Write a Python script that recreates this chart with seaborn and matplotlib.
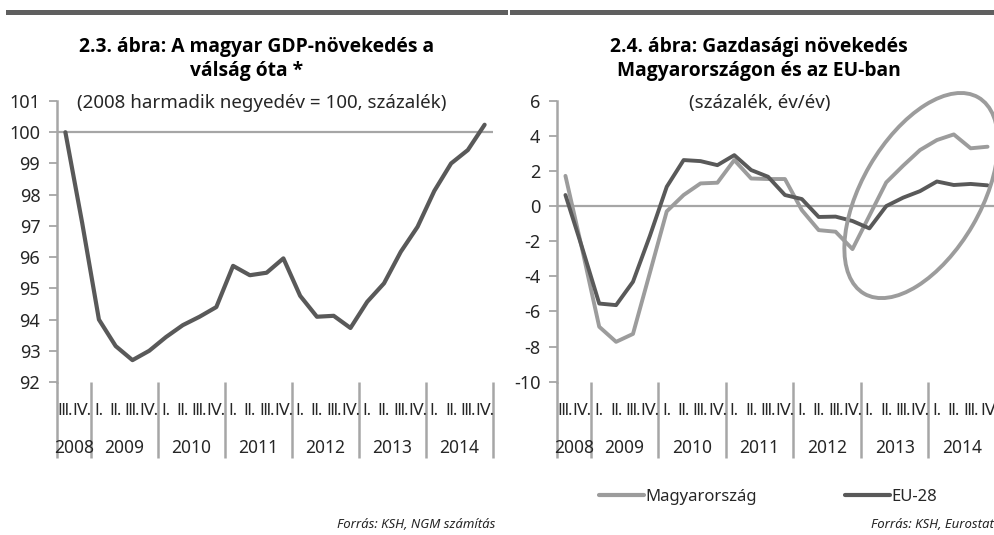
import matplotlib
matplotlib.use("Agg")
import matplotlib.pyplot as plt
import matplotlib.transforms as mtransforms
from matplotlib.patches import Ellipse, Rectangle
from matplotlib.lines import Line2D
import seaborn as sns
import pandas as pd
import numpy as np

# ---------------- data ----------------
quarter_labels_left = ["Ⅲ.", "Ⅳ."] + ["Ⅰ.", "Ⅱ.", "Ⅲ.", "Ⅳ."] * 6
quarter_labels_right = ["Ⅲ.", "Ⅳ."] + ["Ⅰ.", "Ⅱ.", "Ⅲ.", "Ⅳ."] * 5 + ["Ⅰ.", "Ⅱ.", "Ⅲ.", "Ⅳ"]
years = ["2008", "2009", "2010", "2011", "2012", "2013", "2014"]
year_quarters = [2, 4, 4, 4, 4, 4, 4]

gdp_index = [100.0, 97.1, 94.0, 93.15, 92.7, 93.0, 93.44, 93.82, 94.09, 94.4,
             95.72, 95.42, 95.5, 95.96, 94.76, 94.09, 94.12, 93.73, 94.57, 95.16,
             96.17, 96.97, 98.12, 99.0, 99.43, 100.24]

hu_growth = [1.72, -2.5, -6.87, -7.73, -7.28, -3.8, -0.3, 0.63, 1.29, 1.33,
             2.62, 1.57, 1.54, 1.54, -0.23, -1.37, -1.46, -2.45, -0.55, 1.35,
             2.3, 3.19, 3.76, 4.08, 3.29, 3.38]
eu_growth = [0.63, -2.4, -5.55, -5.64, -4.31, -1.7, 1.1, 2.62, 2.56, 2.33,
             2.9, 2.05, 1.67, 0.63, 0.4, -0.62, -0.6, -0.85, -1.27, 0.0,
             0.48, 0.85, 1.4, 1.2, 1.26, 1.18]

series_names = ["Magyarország", "EU-28"]

# ---------------- style ----------------
sns.set_theme(style="white")
plt.rcParams["font.family"] = ["Noto Sans", "DejaVu Sans"]
plt.rcParams["axes.unicode_minus"] = False

DARK = "#595959"
LIGHT = "#9c9c9c"
AXIS = "#a6a6a6"
TXT = "#262626"
FS = 13
TITLE_FS = 13.9
BOLD_FAMILY = ["Open Sans", "DejaVu Sans"]

fig = plt.figure(figsize=(9.95, 5.35), dpi=100)
W, H = 995, 535


def px_axes(x0, y0, x1, y1):
    return fig.add_axes([x0 / W, 1 - y1 / H, (x1 - x0) / W, (y1 - y0) / H])


axL = px_axes(57, 101, 493, 382)
axR = px_axes(557, 100.7, 996, 381.7)

n = len(gdp_index)
idx = np.arange(n)

dfL = pd.DataFrame({"q": idx, "v": gdp_index})
dfR = pd.DataFrame({
    "q": np.concatenate([idx, idx]),
    "v": hu_growth + eu_growth,
    "s": [series_names[0]] * n + [series_names[1]] * n,
})

sns.lineplot(data=dfL, x="q", y="v", ax=axL, color=DARK, lw=3.0, zorder=3)
sns.lineplot(data=dfR, x="q", y="v", hue="s", ax=axR,
             palette={series_names[0]: LIGHT, series_names[1]: DARK},
             lw=2.8, zorder=3, legend=False)

axL.axhline(100, color=AXIS, lw=1.6, zorder=1)
axR.axhline(0, color=AXIS, lw=1.6, zorder=1)

axL.set_ylim(92, 101)
axL.set_yticks(range(92, 102))
axR.set_ylim(-10, 6)
axR.set_yticks(range(-10, 7, 2))

for ax, qlabels in ((axL, quarter_labels_left), (axR, quarter_labels_right)):
    ax.set_xlim(-0.5, n - 0.5)
    ax.set_xticks([])
    ax.set_xlabel("")
    ax.set_ylabel("")
    for sp in ("top", "right", "bottom"):
        ax.spines[sp].set_visible(False)
    ax.spines["left"].set_color(AXIS)
    ax.spines["left"].set_linewidth(1.8)
    ax.tick_params(axis="y", direction="out", length=6, width=1.3,
                   color=AXIS, labelsize=FS, labelcolor=TXT, pad=6, left=True)
    ax.patch.set_alpha(0)
    ax.grid(False)

    # category axis: separators, quarter labels, year labels
    trans = mtransforms.blended_transform_factory(ax.transData, ax.transAxes)
    hpx = ax.get_position().height * H
    ybot = -76 / hpx
    yq = -29 / hpx
    yy = -66 / hpx
    bounds = np.concatenate([[0], np.cumsum(year_quarters)]) - 0.5
    for b in bounds:
        ax.plot([b, b], [0, ybot], transform=trans, color=AXIS, lw=1.8,
                clip_on=False, solid_capstyle="butt")
    for i, lab in enumerate(qlabels):
        ax.text(i, yq, lab, transform=trans, ha="center", va="center",
                fontsize=11.5, color=TXT, family=["Noto Sans", "DejaVu Sans"])
    for k, yr in enumerate(years):
        ax.text((bounds[k] + bounds[k + 1]) / 2, yy, yr, transform=trans,
                ha="center", va="center", fontsize=FS - 0.5, color=TXT)

# ---------------- ellipse annotation (right panel) ----------------
ell_center_data = (21.07, 0.6)
fig.canvas.draw()
cx, cy = axR.transData.transform(ell_center_data)
cx_in, cy_in = fig.dpi_scale_trans.inverted().transform((cx, cy))
ell = Ellipse((cx_in, cy_in), width=2.27, height=1.19, angle=59.8,
              transform=fig.dpi_scale_trans, fill=False, edgecolor=LIGHT,
              lw=2.8, clip_on=False, zorder=4)
fig.add_artist(ell)

# ---------------- header bars ----------------
for x0, x1 in ((6, 508), (510, 995)):
    fig.add_artist(Rectangle((x0 / W, 1 - 14.5 / H), (x1 - x0) / W, 5 / H,
                             transform=fig.transFigure, color="#5f5f5f", lw=0))


# ---------------- titles ----------------
def ftext(x, y, s, **kw):
    fig.text(x / W, 1 - y / H, s, ha="center", va="center", **kw)


ftext(257, 47, "2.3. ábra: A magyar GDP-növekedés a", fontsize=TITLE_FS,
      fontweight="bold", family=BOLD_FAMILY, color="black")
ftext(247, 71, "válság óta *", fontsize=TITLE_FS, fontweight="bold",
      family=BOLD_FAMILY, color="black")
ftext(262, 103, "(2008 harmadik negyedév = 100, százalék)", fontsize=13.5, color=TXT)

ftext(759, 47, "2.4. ábra: Gazdasági növekedés", fontsize=TITLE_FS,
      fontweight="bold", family=BOLD_FAMILY, color="black")
ftext(759, 71, "Magyarországon és az EU-ban", fontsize=TITLE_FS,
      fontweight="bold", family=BOLD_FAMILY, color="black")
ftext(760, 103, "(százalék, év/év)", fontsize=13.5, color=TXT)

# ---------------- legend ----------------
handles = [Line2D([], [], color=LIGHT, lw=3), Line2D([], [], color=DARK, lw=3)]
fig.legend(handles, series_names, loc="center", bbox_to_anchor=(768 / W, 1 - 497 / H),
           ncol=2, frameon=False, fontsize=12, handlelength=2.7,
           handletextpad=0.1, columnspacing=5.3, labelcolor=TXT)

# ---------------- sources ----------------
fig.text(495 / W, 1 - 525 / H, "Forrás: KSH, NGM számítás", ha="right", va="center",
         fontsize=9.5, style="italic", color=TXT)
fig.text(994 / W, 1 - 525 / H, "Forrás: KSH, Eurostat", ha="right", va="center",
         fontsize=9.5, style="italic", color=TXT)

fig.savefig("out.png", dpi=100, facecolor="white")
